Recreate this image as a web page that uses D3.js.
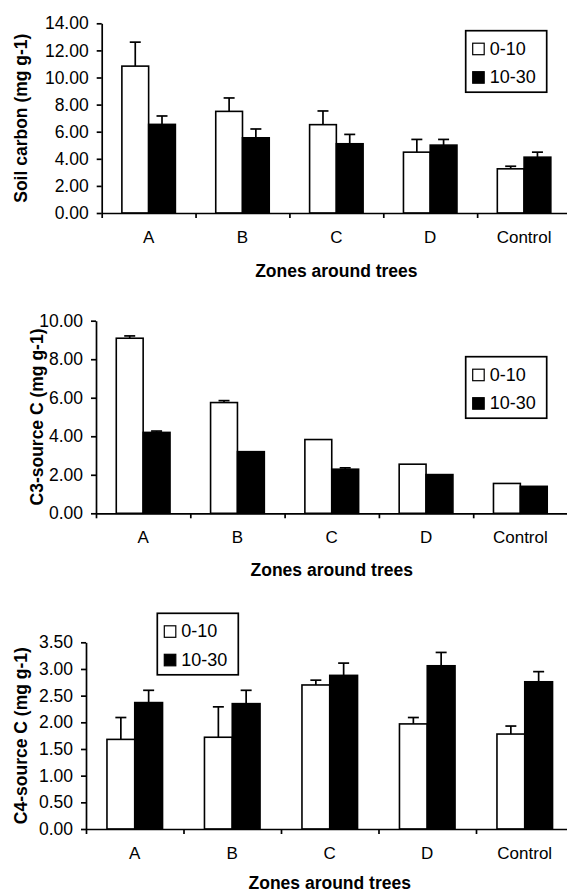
<!DOCTYPE html>
<html>
<head>
<meta charset="utf-8">
<script src="https://cdn.jsdelivr.net/npm/d3@7"></script>
<style>
  body { margin: 0; background: #fff; }
  svg { display: block; font-family: "Liberation Sans", Arial, sans-serif; }
</style>
</head>
<body>
<div id="chart"></div>
<script>
const categories = ["A", "B", "C", "D", "Control"];
const series = ["0-10", "10-30"];

// Soil carbon (mg g-1)
const soilMean0 = [10.84, 7.50, 6.52, 4.49, 3.26];
const soilErr0 = [1.77, 0.99, 1.01, 0.94, 0.19];
const soilMean1 = [6.54, 5.55, 5.11, 5.01, 4.12];
const soilErr1 = [0.62, 0.65, 0.69, 0.42, 0.37];

// C3-source C (mg g-1)
const c3Mean0 = [9.09, 5.75, 3.83, 2.55, 1.55];
const c3Err0 = [0.12, 0.10, 0, 0, 0];
const c3Mean1 = [4.20, 3.20, 2.29, 2.01, 1.40];
const c3Err1 = [0.07, 0, 0.07, 0, 0];

// C4-source C (mg g-1)
const c4Mean0 = [1.68, 1.72, 2.70, 1.97, 1.78];
const c4Err0 = [0.41, 0.57, 0.09, 0.12, 0.15];
const c4Mean1 = [2.37, 2.35, 2.88, 3.06, 2.76];
const c4Err1 = [0.23, 0.25, 0.23, 0.25, 0.19];

const xTitle = "Zones around trees";

const width = 567, height = 893;
const svg = d3.select("#chart").append("svg")
  .attr("width", width).attr("height", height);

const panels = [
  { ytitle: "Soil carbon (mg g-1)", means: [soilMean0, soilMean1], errs: [soilErr0, soilErr1],
    ymax: 14, ystep: 2, left: 101.7, right: 571, top: 23.3, bottom: 213,
    legend: [465.7, 30.7], ytitleX: 21, xtitleY: 277 },
  { ytitle: "C3-source C (mg g-1)", means: [c3Mean0, c3Mean1], errs: [c3Err0, c3Err1],
    ymax: 10, ystep: 2, left: 96, right: 567.5, top: 320.7, bottom: 513.3,
    legend: [465.7, 356.7], ytitleX: 37, xtitleY: 576 },
  { ytitle: "C4-source C (mg g-1)", means: [c4Mean0, c4Mean1], errs: [c4Err0, c4Err1],
    ymax: 3.5, ystep: 0.5, left: 86, right: 573.5, top: 642.3, bottom: 829,
    legend: [157.3, 613.3], ytitleX: 21, xtitleY: 888.5 }
];

const fills = ["#fff", "#000"];

panels.forEach(p => {
  const g = svg.append("g");

  const x = d3.scaleBand().domain(categories).range([p.left, p.right]).padding(0);
  const xs = d3.scaleBand().domain(series)
    .range([x.bandwidth() * 0.215, x.bandwidth() * 0.785]).padding(0);
  const xEdge = d3.scaleLinear().domain([0, categories.length]).range([p.left, p.right]);
  const y = d3.scaleLinear().domain([0, p.ymax]).range([p.bottom, p.top]);

  const rows = [];
  series.forEach((s, si) => categories.forEach((c, ci) => {
    rows.push({ cat: c, ser: s, si: si, v: p.means[si][ci], e: p.errs[si][ci] });
  }));

  // error bars (upper only)
  const eb = g.append("g").attr("stroke", "#000").attr("stroke-width", 1.7);
  rows.filter(d => d.e > 0).forEach(d => {
    const cx = x(d.cat) + xs(d.ser) + xs.bandwidth() / 2;
    eb.append("line").attr("x1", cx).attr("x2", cx)
      .attr("y1", y(d.v)).attr("y2", y(d.v + d.e));
    eb.append("line").attr("x1", cx - 5.5).attr("x2", cx + 5.5)
      .attr("y1", y(d.v + d.e)).attr("y2", y(d.v + d.e));
  });

  // bars
  g.append("g").selectAll("rect").data(rows).join("rect")
    .attr("x", d => x(d.cat) + xs(d.ser))
    .attr("y", d => y(d.v))
    .attr("width", xs.bandwidth())
    .attr("height", d => y(0) - y(d.v))
    .attr("fill", d => fills[d.si])
    .attr("stroke", "#000")
    .attr("stroke-width", 1.6);

  // y axis
  const yAxis = g.append("g")
    .attr("transform", `translate(${p.left},0)`)
    .call(d3.axisLeft(y)
      .tickValues(d3.range(0, p.ymax + p.ystep / 2, p.ystep))
      .tickFormat(d3.format(".2f"))
      .tickSize(5).tickSizeOuter(0).tickPadding(8));
  yAxis.selectAll("text").attr("font-size", 17.5).attr("fill", "#000")
    .attr("font-family", "Liberation Sans, Arial, sans-serif");
  yAxis.selectAll("line, path").attr("stroke", "#000").attr("stroke-width", 1.7);

  // x axis with ticks between categories
  const xAxis = g.append("g")
    .attr("transform", `translate(0,${p.bottom})`)
    .call(d3.axisBottom(xEdge).tickValues(d3.range(0, categories.length + 1))
      .tickFormat("").tickSize(5).tickSizeOuter(0));
  xAxis.selectAll("line, path").attr("stroke", "#000").attr("stroke-width", 1.7);

  // category labels
  const xLab = g.append("g")
    .attr("transform", `translate(0,${p.bottom})`)
    .call(d3.axisBottom(x).tickSize(0).tickPadding(18));
  xLab.select(".domain").remove();
  xLab.selectAll("text").attr("font-size", 17).attr("fill", "#000")
    .attr("font-family", "Liberation Sans, Arial, sans-serif");

  // axis titles
  g.append("text")
    .attr("x", (p.left + p.right) / 2).attr("y", p.xtitleY)
    .attr("text-anchor", "middle").attr("font-weight", "bold").attr("font-size", 17.5)
    .text(xTitle);
  g.append("text")
    .attr("transform", `translate(${p.ytitleX + 6},${(p.top + p.bottom) / 2}) rotate(-90)`)
    .attr("text-anchor", "middle").attr("font-weight", "bold").attr("font-size", 17.5)
    .text(p.ytitle);

  // legend
  const lg = g.append("g").attr("transform", `translate(${p.legend[0]},${p.legend[1]})`);
  lg.append("rect").attr("width", 81).attr("height", 61.5)
    .attr("fill", "#fff").attr("stroke", "#000").attr("stroke-width", 1.7);
  series.forEach((s, i) => {
    lg.append("rect").attr("x", 7).attr("y", 12.5 + i * 28.5)
      .attr("width", 11.5).attr("height", 11.5)
      .attr("fill", fills[i]).attr("stroke", "#000").attr("stroke-width", 1.2);
    lg.append("text").attr("x", 24).attr("y", 24 + i * 28.5)
      .attr("font-size", 18).text(s);
  });
});
</script>
</body>
</html>
